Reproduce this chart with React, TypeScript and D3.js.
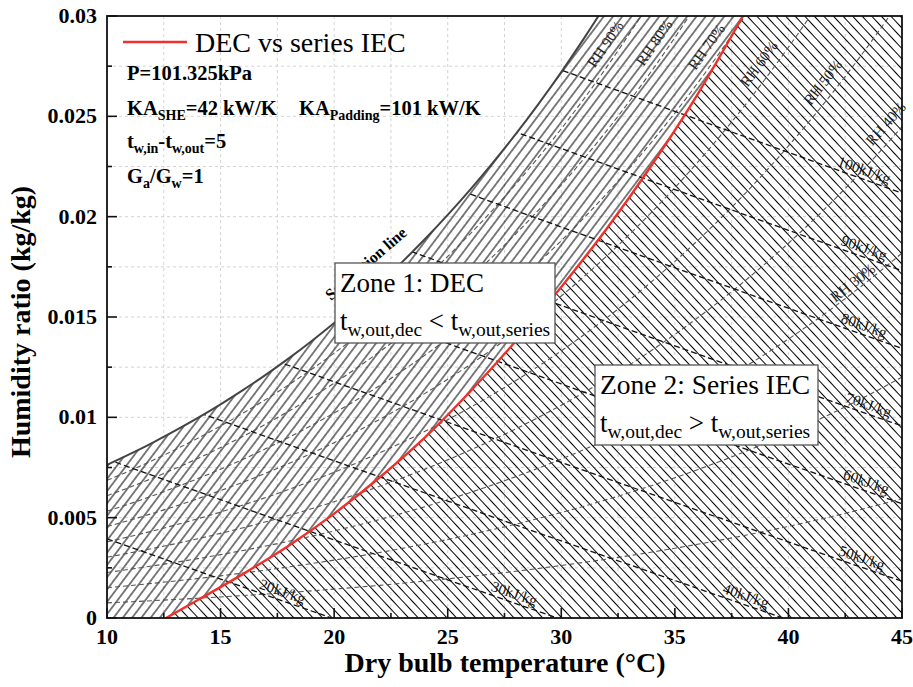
import React from "react";
import * as d3 from "d3";

// saturation vapour pressure table (kPa) at dry bulb temperatures (°C)
const tableT = [10, 11, 12, 13, 14, 15, 16, 17, 18, 19, 20, 21, 22, 23, 24, 25, 26, 27, 28, 29, 30, 31, 32, 33, 34, 35, 36, 37, 38, 39, 40, 41, 42, 43, 44, 45];
const tablePs = [1.2282, 1.3129, 1.4028, 1.4981, 1.5989, 1.7057, 1.8188, 1.9383, 2.0647, 2.1982, 2.3392, 2.4881, 2.6452, 2.8109, 2.9856, 3.1697, 3.3637, 3.5679, 3.7828, 4.0089, 4.2467, 4.4966, 4.7592, 5.0351, 5.3247, 5.6286, 5.9475, 6.2818, 6.6324, 6.9997, 7.3844, 7.7873, 8.209, 8.6503, 9.1118, 9.5944];
const P_ATM = 101.325;

const rhLevels = [0.1, 0.2, 0.3, 0.4, 0.5, 0.6, 0.7, 0.8, 0.9];
const rhLabels = ["RH 30%", "RH 40%", "RH 50%", "RH 60%", "RH 70%", "RH 80%", "RH 90%"];
const rhLabelLevel = [0.3, 0.4, 0.5, 0.6, 0.7, 0.8, 0.9];
const rhLabelT = [43.05, 44.75, 42.0, 39.2, 36.9, 34.6, 32.45];

const enthalpyLevels = [20, 30, 40, 50, 60, 70, 80, 90, 100];
const enthalpyLabelT = [17.6, 27.8, 38.0, 43.1, 43.3, 43.4, 43.2, 43.2, 43.2];

// DEC vs series IEC boundary
const redT = [12.6, 14, 16, 18, 20, 22, 24, 26, 28, 30, 32, 34, 36, 38];
const redW = [0, 0.0009, 0.0022, 0.0036, 0.0052, 0.007, 0.009, 0.0113, 0.0138, 0.0165, 0.0194, 0.0226, 0.0261, 0.03];

const xTicks = [10, 15, 20, 25, 30, 35, 40, 45];
const xMinor = [12.5, 17.5, 22.5, 27.5, 32.5, 37.5, 42.5];
const yTicks = [0, 0.005, 0.01, 0.015, 0.02, 0.025, 0.03];
const yTickLabels = ["0", "0.005", "0.01", "0.015", "0.02", "0.025", "0.03"];
const yMinor = [0.0025, 0.0075, 0.0125, 0.0175, 0.0225, 0.0275];

const serif = "'Liberation Serif', 'Times New Roman', serif";

const psAt = (t: number) => {
    const i = Math.max(0, Math.min(tableT.length - 2, Math.floor(t - tableT[0])));
    const f = (t - tableT[i]) / (tableT[i + 1] - tableT[i]);
    return tablePs[i] + f * (tablePs[i + 1] - tablePs[i]);
};
const wAt = (t: number, phi: number) => {
    const pv = phi * psAt(t);
    return 0.622 * pv / (P_ATM - pv);
};
const wEnth = (t: number, h: number) => (h - 1.006 * t) / (2501 + 1.86 * t);

export default function App() {
    const x = d3.scaleLinear().domain([10, 45]).range([107, 902]);
    const y = d3.scaleLinear().domain([0, 0.03]).range([618, 16]);

    const line = d3.line<[number, number]>()
        .x(d => x(d[0]))
        .y(d => y(d[1]))
        .curve(d3.curveMonotoneX);

    const satPts: [number, number][] = tableT.map((t, i) => [t, 0.622 * tablePs[i] / (P_ATM - tablePs[i])]);
    const satArea = d3.area<[number, number]>()
        .x(d => x(d[0]))
        .y0(y(-0.002))
        .y1(d => y(d[1]))
        .curve(d3.curveMonotoneX)(satPts) as string;

    const redPts: [number, number][] = redT.map((t, i) => [t, redW[i]]);
    const redPath = line(redPts) as string;
    const t0 = redT[0], tN = redT[redT.length - 1];
    const zone1 = `${redPath} L${x(tN)},${y(0.032)} L${x(8)},${y(0.032)} L${x(8)},${y(-0.002)} L${x(t0)},${y(-0.002)} Z`;
    const zone2 = `${redPath} L${x(tN)},${y(0.032)} L${x(47)},${y(0.032)} L${x(47)},${y(-0.002)} L${x(t0)},${y(-0.002)} Z`;

    const rhPaths = rhLevels.map(phi => line(tableT.map(t => [t, wAt(t, phi)] as [number, number])) as string);

    const enthPaths = enthalpyLevels.map(h => {
        const tEnd = Math.min(45, h / 1.006);
        const pts: [number, number][] = d3.range(10, tEnd, 0.5).map(t => [t, wEnth(t, h)] as [number, number]);
        pts.push([tEnd, wEnth(tEnd, h)]);
        return d3.line<[number, number]>().x(d => x(d[0])).y(d => y(d[1]))(pts) as string;
    });

    const labelPos = (f: (t: number) => number, t: number) => {
        const px = x(t), py = y(f(t));
        const dx = x(t + 0.2) - x(t - 0.2);
        const dy = y(f(t + 0.2)) - y(f(t - 0.2));
        return { px, py, angle: Math.atan2(dy, dx) * 180 / Math.PI };
    };

    return (
        <svg width={913} height={687} style={{ position: "absolute", left: 0, top: 0, background: "white" }}>
            <defs>
                <clipPath id="plotClip">
                    <rect x={107} y={16} width={795} height={602} />
                </clipPath>
                <clipPath id="satClip">
                    <path d={satArea} />
                </clipPath>
                <pattern id="hatch1" width={7.4} height={7.4} patternUnits="userSpaceOnUse" patternTransform="rotate(37)">
                    <line x1={3.7} y1={-1} x2={3.7} y2={8.4} stroke="#000" strokeWidth={1} />
                </pattern>
                <pattern id="hatch2" width={7} height={7} patternUnits="userSpaceOnUse" patternTransform="rotate(-43)">
                    <line x1={3.5} y1={-1} x2={3.5} y2={8} stroke="#000" strokeWidth={1} />
                </pattern>
            </defs>

            {/* grid */}
            <g stroke="#c8c8c8" strokeWidth={0.8} strokeDasharray="3,3">
                {[...xTicks, ...xMinor].filter(t => t > 10 && t < 45).map(t => (
                    <line key={"gx" + t} x1={x(t)} x2={x(t)} y1={16} y2={618} />
                ))}
                {[...yTicks, ...yMinor].filter(v => v > 0 && v < 0.03).map(v => (
                    <line key={"gy" + v} x1={107} x2={902} y1={y(v)} y2={y(v)} />
                ))}
            </g>

            <g clipPath="url(#plotClip)">
                <g clipPath="url(#satClip)">
                    <path d={zone1} fill="url(#hatch1)" />
                    <path d={zone2} fill="url(#hatch2)" />
                    {rhPaths.map((d, i) => (
                        <path key={"rh" + i} d={d} fill="none" stroke="#555" strokeWidth={1.1} strokeDasharray="5,3" />
                    ))}
                    {enthPaths.map((d, i) => (
                        <path key={"h" + i} d={d} fill="none" stroke="#111" strokeWidth={1.3} strokeDasharray="6,3" />
                    ))}
                </g>
                <path d={line(satPts) as string} fill="none" stroke="#444" strokeWidth={2} />
                <path d={redPath} fill="none" stroke="#f0302a" strokeWidth={2.4} />
            </g>

            {/* RH labels */}
            {rhLabels.map((s, i) => {
                const p = labelPos(t => wAt(t, rhLabelLevel[i]), rhLabelT[i]);
                return (
                    <text key={s} transform={`translate(${p.px},${p.py}) rotate(${p.angle})`} y={i === 0 ? -3 : -9}
                        textAnchor="middle" fontFamily={serif} fontSize={15} fill="#222">{s}</text>
                );
            })}

            {/* enthalpy labels */}
            {enthalpyLevels.map((h, i) => {
                const p = labelPos(t => wEnth(t, h), enthalpyLabelT[i]);
                return (
                    <text key={"hl" + h} transform={`translate(${p.px},${p.py}) rotate(${p.angle})`} y={-4}
                        textAnchor="middle" fontFamily={serif} fontSize={15} fill="#111">{h}kJ/kg</text>
                );
            })}

            <text transform="translate(331,301) rotate(-41)" fontFamily={serif} fontWeight="bold" fontSize={16}>Saturation line</text>

            {/* zone boxes */}
            <rect x={335} y={263} width={220} height={80} fill="white" stroke="#555" strokeWidth={1.3} />
            <text x={340} y={292} fontFamily={serif} fontSize={27}>Zone 1: DEC</text>
            <text x={340} y={330} fontFamily={serif} fontSize={27}>
                t<tspan dy={6} fontSize={19.5}>w,out,dec</tspan><tspan dy={-6}> &lt; t</tspan><tspan dy={6} fontSize={19.5}>w,out,series</tspan>
            </text>

            <rect x={595} y={365} width={223} height={80} fill="white" stroke="#555" strokeWidth={1.3} />
            <text x={600} y={394} fontFamily={serif} fontSize={27.5}>Zone 2: Series IEC</text>
            <text x={600} y={432} fontFamily={serif} fontSize={27}>
                t<tspan dy={6} fontSize={19.5}>w,out,dec</tspan><tspan dy={-6}> &gt; t</tspan><tspan dy={6} fontSize={19.5}>w,out,series</tspan>
            </text>

            {/* legend and notes */}
            <line x1={123} x2={187} y1={42} y2={42} stroke="#f0302a" strokeWidth={2.5} />
            <text x={195} y={52} fontFamily={serif} fontSize={28}>DEC vs series IEC</text>
            <g fontFamily={serif} fontWeight="bold" fontSize={20.5}>
                <text x={127} y={80}>P=101.325kPa</text>
                <text x={127} y={115}>KA<tspan dy={5} fontSize={14}>SHE</tspan><tspan dy={-5}>=42 kW/K</tspan></text>
                <text x={299} y={115}>KA<tspan dy={5} fontSize={14}>Padding</tspan><tspan dy={-5}>=101 kW/K</tspan></text>
                <text x={127} y={148}>t<tspan dy={5} fontSize={14}>w,in</tspan><tspan dy={-5}>-t</tspan><tspan dy={5} fontSize={14}>w,out</tspan><tspan dy={-5}>=5</tspan></text>
                <text x={127} y={183}>G<tspan dy={5} fontSize={14}>a</tspan><tspan dy={-5}>/G</tspan><tspan dy={5} fontSize={14}>w</tspan><tspan dy={-5}>=1</tspan></text>
            </g>

            {/* frame and ticks */}
            <rect x={107} y={16} width={795} height={602} fill="none" stroke="#111" strokeWidth={1.8} />
            <g stroke="#111" strokeWidth={1.6}>
                {xTicks.map(t => <line key={"xt" + t} x1={x(t)} x2={x(t)} y1={618} y2={608} />)}
                {xMinor.map(t => <line key={"xm" + t} x1={x(t)} x2={x(t)} y1={618} y2={613} />)}
                {yTicks.map(v => <line key={"yt" + v} x1={107} x2={117} y1={y(v)} y2={y(v)} />)}
                {yMinor.map(v => <line key={"ym" + v} x1={107} x2={112} y1={y(v)} y2={y(v)} />)}
            </g>
            <g fontFamily={serif} fontWeight="bold" fontSize={22}>
                {xTicks.map(t => (
                    <text key={"xl" + t} x={x(t)} y={644} textAnchor="middle">{t}</text>
                ))}
                {yTicks.map((v, i) => (
                    <text key={"yl" + v} x={97} y={y(v) + 7} textAnchor="end">{yTickLabels[i]}</text>
                ))}
            </g>
            <text x={505} y={672} textAnchor="middle" fontFamily={serif} fontWeight="bold" fontSize={28}>Dry bulb temperature (°C)</text>
            <text transform="translate(30,322) rotate(-90)" textAnchor="middle" fontFamily={serif} fontWeight="bold" fontSize={28}>Humidity ratio (kg/kg)</text>
        </svg>
    );
}
